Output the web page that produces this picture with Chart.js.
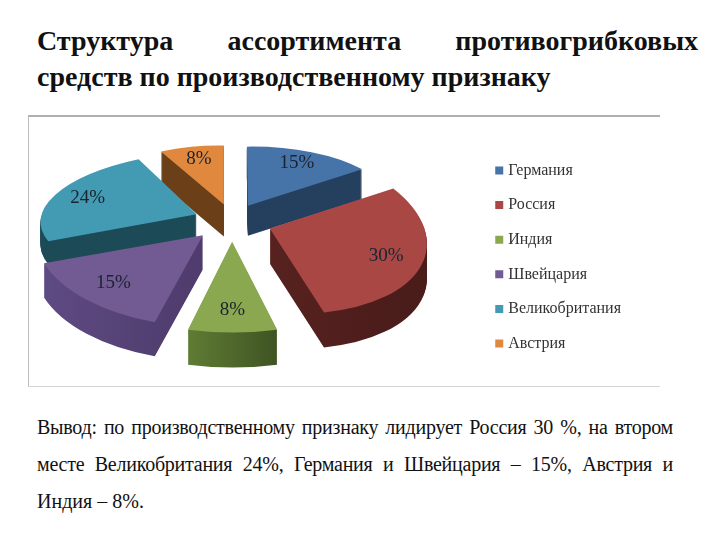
<!DOCTYPE html>
<html lang="ru">
<head>
<meta charset="utf-8">
<title>Структура ассортимента</title>
<script src="https://cdn.jsdelivr.net/npm/chart.js@4"></script>
<style>
  html, body { margin: 0; background: #fff; }
  body { width: 720px; height: 540px; position: relative; overflow: hidden; font-family: "Liberation Serif", serif; color: #111; }
  #title { position: absolute; left: 37px; top: 23px; width: 661px; font-size: 28px; font-weight: bold; line-height: 36px; }
  #note { position: absolute; left: 37px; top: 409px; width: 636px; font-size: 20px; line-height: 37px; }
  .full { display: block; white-space: nowrap; text-align: justify; text-align-last: justify; }
  #note .full { letter-spacing: -0.25px; }
  #frame { position: absolute; left: 28px; top: 115px; width: 632px; height: 272px; box-sizing: border-box;
           border-top: 2px solid #b0b0b0; border-left: 1px solid #bcbcbc; border-bottom: 1px solid #d4d4d4; }
  #chart { position: absolute; left: -1px; top: -2px; }
</style>
</head>
<body>
<div id="title"><span class="full">Структура ассортимента противогрибковых</span>средств по производственному признаку</div>
<div id="frame"><canvas id="chart" width="632" height="272"></canvas></div>
<div id="note"><span class="full">Вывод: по производственному признаку лидирует Россия 30 %, на втором</span><span class="full">месте Великобритания 24%, Германия и Швейцария – 15%, Австрия и</span>Индия – 8%.</div>
<script>
var countries = ["Германия", "Россия", "Индия", "Швейцария", "Великобритания", "Австрия"];
var shares = [15, 30, 8, 15, 24, 8];

var topColors = ["#4673a8", "#a94744", "#8aa84f", "#725a93", "#439ab3", "#e0893e"];
var sideLight = ["#25405f", "#572220", "#5f7c34", "#5f4b84", "#1c4a57", "#6b3f17"];
var sideDark = ["#25405f", "#4a1c1a", "#3f5423", "#4f3c6c", "#1c4a57", "#6b3f17"];

// fake 3d: every slice gets its own flattening [a, b, c, d] in px, front ones look bigger
var slicePerspective = [
  [142, 1, -2, 59],
  [157, 6, 12, 84.5],
  [179, -10.8, 5.7, 90.7],
  [167.8, -17, 11.8, 90.9],
  [155, -19, -0.2, 62.9],
  [130.7, 0, 2.7, 59]
];
var sliceDepth = [30, 35, 35, 34, 23, 32];
var drawOrder = [0, 5, 4, 1, 3, 2];

var pieCenter = { x: 204, y: 104 };
var explode = 0.25;
var labelAt = 0.77;

function midAngle(arc) {
  return (arc.startAngle + arc.endAngle) / 2;
}

function placeSlice(ctx, arc, i, dy) {
  var m = slicePerspective[i];
  var r = arc.outerRadius;
  var mid = midAngle(arc);
  ctx.translate(pieCenter.x, pieCenter.y + dy);
  ctx.transform(m[0] / r, m[2] / r, m[1] / r, m[3] / r, 0, 0);
  ctx.translate(Math.cos(mid) * explode * r, Math.sin(mid) * explode * r);
  ctx.translate(-arc.x, -arc.y);
}

function paintSlice(ctx, arc, i, dy, fill) {
  var saved = arc.options;
  arc.options = {
    backgroundColor: fill, borderColor: fill, borderWidth: 0, borderRadius: 0,
    borderAlign: "center", offset: 0, spacing: 0, circular: true
  };
  ctx.save();
  placeSlice(ctx, arc, i, dy);
  arc.draw(ctx);
  ctx.restore();
  arc.options = saved;
}

var pie3d = {
  id: "pie3d",
  beforeDatasetDraw: function (chart, args) {
    var ctx = chart.ctx;
    var arcs = args.meta.data;
    drawOrder.forEach(function (i) {
      var arc = arcs[i];
      var r = arc.outerRadius;
      var xs = [arc.x, arc.x + Math.cos(arc.startAngle) * r, arc.x + Math.cos(arc.endAngle) * r];
      var side = ctx.createLinearGradient(Math.min.apply(null, xs), 0, Math.max.apply(null, xs), 0);
      side.addColorStop(0, sideLight[i]);
      side.addColorStop(1, sideDark[i]);
      for (var d = sliceDepth[i]; d > 0; d--) {
        paintSlice(ctx, arc, i, d, side);
      }
      paintSlice(ctx, arc, i, 0, topColors[i]);
    });
    return false; // slices are done here
  },
  afterDatasetsDraw: function (chart) {
    var ctx = chart.ctx;
    ctx.save();
    ctx.font = '19px "Liberation Serif"';
    ctx.fillStyle = "#1a2230";
    ctx.textAlign = "center";
    ctx.textBaseline = "middle";
    chart.getDatasetMeta(0).data.forEach(function (arc, i) {
      var m = slicePerspective[i];
      var mid = midAngle(arc);
      var ux = Math.cos(mid);
      var uy = Math.sin(mid);
      var k = explode + labelAt;
      var x = pieCenter.x + (m[0] * ux + m[1] * uy) * k;
      var y = pieCenter.y + (m[2] * ux + m[3] * uy) * k;
      ctx.fillText(shares[i] + "%", x, y - 1.5);
    });
    ctx.restore();
  }
};

new Chart(document.getElementById("chart"), {
  type: "pie",
  data: {
    labels: countries,
    datasets: [{
      data: shares,
      backgroundColor: topColors,
      borderColor: topColors,
      borderWidth: 6 // only the legend uses it: 2px box + 6px stroke keeps text close to the box
    }]
  },
  options: {
    responsive: false,
    animation: false,
    layout: { padding: { top: 12, right: 29 } },
    plugins: {
      tooltip: { enabled: false },
      legend: {
        position: "right",
        labels: {
          boxWidth: 2,
          boxHeight: 2,
          padding: 18.6,
          color: "#333",
          font: { family: "Liberation Serif", size: 16 }
        }
      }
    }
  },
  plugins: [pie3d]
});
</script>
</body>
</html>
